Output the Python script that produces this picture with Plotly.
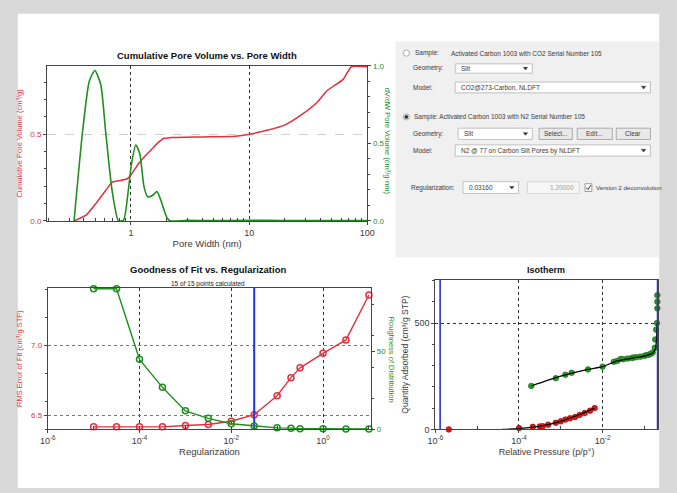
import plotly.graph_objects as go

W, H = 677, 493

# ---------------- data ----------------
# Plot 1: Cumulative Pore Volume vs. Pore Width
pore_width_cum = [0.33, 0.417, 0.504, 0.61, 0.692, 0.785, 0.921, 1.01, 1.15, 1.31, 1.48, 1.68, 1.91,
                  2.17, 4.09, 7.7, 10, 14.5, 20, 27.4, 37.7, 45.6, 62.5, 73.3, 100]
cum_volume = [0, 0.034, 0.10, 0.176, 0.223, 0.232, 0.242, 0.27, 0.327, 0.374, 0.41, 0.449, 0.477,
              0.481, 0.485, 0.489, 0.5, 0.525, 0.553, 0.61, 0.685, 0.751, 0.817, 0.89, 0.89]
pore_width_dv = [0.33, 0.39, 0.444, 0.495, 0.555, 0.61, 0.692, 0.785, 0.865, 0.95, 1.01, 1.10, 1.19,
                 1.29, 1.39, 1.53, 1.66, 1.79, 2.03, 2.17, 3, 5, 10, 20, 50, 100]
dvdw = [0, 0.58, 0.90, 0.97, 0.88, 0.58, 0.198, 0, 0.005, 0.198, 0.368, 0.49, 0.43,
        0.22, 0.155, 0.166, 0.19, 0.134, 0.017, 0, 0.004, 0.002, 0.004, 0.003, 0.003, 0.002]

# Plot 2: Goodness of Fit vs. Regularization
regularization = [1e-5, 3.16e-5, 1e-4, 3.16e-4, 1e-3, 3.16e-3, 1e-2, 3.16e-2, 0.1, 0.2, 0.316, 1, 3.16, 10]
rms_error = [6.418, 6.418, 6.418, 6.418, 6.428, 6.435, 6.458, 6.505, 6.640, 6.769, 6.839, 6.942, 7.038, 7.358]
roughness = [90.3, 90.3, 45.0, 27.0, 11.9, 7.1, 3.6, 2.1, 1.0, 0.8, 0.4, 0.4, 0.3, 0.3]
selected_reg = 0.0316

# Plot 3: Isotherm
n2_p = [1.97e-4, 7.6e-4, 1.29e-3, 1.82e-3, 4.47e-3, 1e-2, 1.86e-2, 2.24e-2, 2.69e-2, 3.16e-2, 3.98e-2,
        5.01e-2, 5.5e-2, 6.31e-2, 7.94e-2, 0.1, 0.112, 0.126, 0.141, 0.158, 0.178, 0.182, 0.191, 0.2,
        0.204, 0.204, 0.204]
n2_q = [204.5, 241, 257, 266, 282, 295, 318, 322, 331, 330, 333, 336, 338, 339, 342, 346, 349, 351,
        355, 361, 384, 423, 469, 500, 569, 600, 631]
n2_fit_p = [1.97e-4, 1e-3, 4.47e-3, 1e-2, 2.24e-2, 5e-2, 0.1, 0.158, 0.185, 0.196, 0.202]
n2_fit_q = [204, 250, 282, 295, 322, 335, 345, 358, 380, 430, 500]
co2_p = [2.1e-6, 1e-4, 2.14e-4, 3.16e-4, 3.72e-4, 5.01e-4, 7.59e-4, 1e-3, 1.29e-3, 1.66e-3, 2.19e-3,
         2.82e-3, 3.72e-3, 5.01e-3, 6.46e-3]
co2_q = [0, 6, 12, 14, 15, 22, 31, 38, 46, 52, 58, 68, 77, 88, 100]
co2_fit_p = [4e-5, 1e-4, 3e-4, 1e-3, 3e-3, 6.46e-3]
co2_fit_q = [0, 4, 14, 38, 72, 100]
iso_range = [1.3e-6, 0.2065]

# axis ranges (log10 for log axes)
x1_range = [-0.71, 2.0]
y1_range = [0, 0.895]
y2_range = [0, 1.0]
x2_range = [-6.0, 1.05]
y3_range = [6.40, 7.41]
y4_range = [0, 91]
x3_range = [-6.0, -0.675]
y5_range = [0, 703]

# ---------------- helpers ----------------
def PX(x):
    return x / W

def PY(y):
    return 1 - y / H

RED = "#e3303f"
GREEN = "#1f8f1f"
BLUE = "#2233dd"
FONT = "Liberation Sans"
TXT = "#3a3a3a"

fig = go.Figure()

# Plot 1 traces
fig.add_trace(go.Scatter(x=pore_width_cum, y=cum_volume, mode="lines", xaxis="x", yaxis="y",
                         line=dict(color=RED, width=1.5, shape="spline", smoothing=0.5)))
fig.add_trace(go.Scatter(x=pore_width_dv, y=dvdw, mode="lines", xaxis="x", yaxis="y2",
                         line=dict(color=GREEN, width=1.6, shape="spline", smoothing=0.6)))

# Plot 2 traces
fig.add_trace(go.Scatter(x=regularization, y=rms_error, mode="lines+markers", xaxis="x2", yaxis="y3",
                         cliponaxis=False,
                         line=dict(color=RED, width=1.4),
                         marker=dict(symbol="circle-open", size=6, color=RED, line=dict(width=1.5))))
fig.add_trace(go.Scatter(x=regularization, y=roughness, mode="lines+markers", xaxis="x2", yaxis="y4",
                         cliponaxis=False,
                         line=dict(color=GREEN, width=1.4),
                         marker=dict(symbol="circle-open", size=6, color=GREEN, line=dict(width=1.5))))
fig.add_trace(go.Scatter(x=[selected_reg, selected_reg], y=y3_range, mode="lines", xaxis="x2", yaxis="y3",
                         line=dict(color=BLUE, width=2)))

# Plot 3 traces
fig.add_trace(go.Scatter(x=co2_p, y=co2_q, mode="markers", xaxis="x3", yaxis="y5", cliponaxis=False,
                         marker=dict(size=5.5, color="#e01e1e", line=dict(color="#b00000", width=0.8))))
fig.add_trace(go.Scatter(x=n2_p, y=n2_q, mode="markers", xaxis="x3", yaxis="y5", cliponaxis=False,
                         marker=dict(size=5.5, color="#2aa02a", line=dict(color="#157015", width=0.8))))
fig.add_trace(go.Scatter(x=co2_fit_p, y=co2_fit_q, mode="lines", xaxis="x3", yaxis="y5",
                         line=dict(color="black", width=1.3, shape="spline")))
fig.add_trace(go.Scatter(x=n2_fit_p, y=n2_fit_q, mode="lines", xaxis="x3", yaxis="y5",
                         line=dict(color="black", width=1.3, shape="spline", smoothing=0.6)))
for xv in iso_range:
    fig.add_trace(go.Scatter(x=[xv, xv], y=y5_range, mode="lines", xaxis="x3", yaxis="y5",
                             line=dict(color=BLUE, width=1.6)))

# ---------------- axes ----------------
common_x = dict(type="log", showline=True, mirror=True, linecolor="#444", linewidth=1,
                ticks="outside", ticklen=3, tickcolor="#444",
                showgrid=True, gridcolor="#333", griddash="dot", gridwidth=1,
                zeroline=False, tickfont=dict(family=FONT, size=9, color=TXT))
common_y = dict(showline=True, linecolor="#444", linewidth=1, ticks="outside", ticklen=3,
                tickcolor="#444", zeroline=False, tickmode="array")

dom1x = [PX(40), PX(368)]
dom1y = [PY(221), PY(63)]
dom2x = [PX(40.7), PX(372)]
dom2y = [PY(433.3), PY(289)]
dom3x = [PX(437.7), PX(665.7)]
dom3y = [PY(433.3), PY(281)]

minor1 = [0.2, 0.3, 0.4, 0.5, 0.6, 0.7, 0.8, 0.9, 2, 3, 4, 5, 6, 7, 8, 9, 20, 30, 40, 50, 60, 70, 80, 90]

def xtitle(s, size=9.5, standoff=3):
    return dict(text=s, font=dict(family=FONT, size=size, color=TXT), standoff=standoff)

fig.update_layout(
    xaxis=dict(common_x, domain=dom1x, anchor="y", range=x1_range,
               tickmode="array", tickvals=[1, 10, 100], ticktext=["1", "10", "100"],
               title=xtitle("Pore Width (nm)"),
               minor=dict(tickvals=minor1, ticks="inside", ticklen=3, tickcolor="#444", showgrid=False)),
    yaxis=dict(common_y, domain=dom1y, anchor="x", range=y1_range,
               tickvals=[0, 0.5], ticktext=["0.0", "0.5"],
               tickfont=dict(family=FONT, size=8, color=RED),
               title=dict(text="Cumulative Pore Volume (cm³/g)", font=dict(family=FONT, size=7.5, color=RED),
                          standoff=6),
               showgrid=True, gridcolor="#cfcfcf", griddash="dash",
               minor=dict(dtick=0.1, tick0=0, ticks="outside", ticklen=2, tickcolor="#444", showgrid=False)),
    yaxis2=dict(common_y, overlaying="y", side="right", anchor="x", range=y2_range,
                tickvals=[0, 0.5, 1.0], ticktext=["0.0", "0.5", "1.0"],
                tickfont=dict(family=FONT, size=8, color=GREEN), showgrid=False,
                minor=dict(dtick=0.1, tick0=0, ticks="outside", ticklen=2, tickcolor="#444", showgrid=False)),

    xaxis2=dict(common_x, domain=dom2x, anchor="y3", range=x2_range,
                tickmode="array", tickvals=[1e-6, 1e-4, 1e-2, 1],
                ticktext=["10<sup>-6</sup>", "10<sup>-4</sup>", "10<sup>-2</sup>", "10<sup>0</sup>"],
                title=xtitle("Regularization"),
                minor=dict(tickvals=[1e-5, 1e-3, 1e-1, 10], ticks="inside", ticklen=3,
                           tickcolor="#444", showgrid=False)),
    yaxis3=dict(common_y, domain=dom2y, anchor="x2", range=y3_range,
                tickvals=[6.5, 7.0], ticktext=["6.5", "7.0"],
                tickfont=dict(family=FONT, size=8, color=RED),
                title=dict(text="RMS Error of Fit (cm³/g STP)", font=dict(family=FONT, size=7.5, color=RED),
                           standoff=7),
                showgrid=True, gridcolor="#e84848", griddash="dot",
                minor=dict(dtick=0.2, tick0=7.0, ticks="outside", ticklen=2, tickcolor="#444", showgrid=False)),
    yaxis4=dict(common_y, overlaying="y3", side="right", anchor="x2", range=y4_range,
                tickvals=[0, 50], ticktext=["0", "50"],
                tickfont=dict(family=FONT, size=8, color=GREEN), showgrid=False,
                minor=dict(dtick=20, tick0=0, ticks="outside", ticklen=2, tickcolor="#444", showgrid=False)),

    xaxis3=dict(common_x, domain=dom3x, anchor="y5", range=x3_range,
                tickmode="array", tickvals=[1e-6, 1e-4, 1e-2],
                ticktext=["10<sup>-6</sup>", "10<sup>-4</sup>", "10<sup>-2</sup>"],
                title=xtitle("Relative Pressure (p/p°)", size=9),
                minor=dict(tickvals=[1e-5, 1e-3, 1e-1], ticks="inside", ticklen=3,
                           tickcolor="#444", showgrid=False)),
    yaxis5=dict(common_y, domain=dom3y, anchor="x3", range=y5_range, mirror=True,
                tickvals=[0, 500], ticktext=["0", "500"],
                tickfont=dict(family=FONT, size=9, color=TXT),
                title=dict(text="Quantity Adsorbed (cm³/g STP)", font=dict(family=FONT, size=8.5, color=TXT),
                           standoff=4),
                showgrid=True, gridcolor="#333", griddash="dot",
                minor=dict(dtick=100, tick0=0, ticks="outside", ticklen=2, tickcolor="#444", showgrid=False)),
)

# ---------------- shapes (background, dialog) ----------------
shapes = []

def rect(x0, y0, x1, y1, fill, line="rgba(0,0,0,0)", lw=0.8, layer="above"):
    shapes.append(dict(type="rect", xref="paper", yref="paper", x0=PX(x0), x1=PX(x1),
                       y0=PY(y1), y1=PY(y0), fillcolor=fill, line=dict(color=line, width=lw), layer=layer))

def circle(cx, cy, r, fill, line):
    shapes.append(dict(type="circle", xref="paper", yref="paper", x0=PX(cx - r), x1=PX(cx + r),
                       y0=PY(cy + r), y1=PY(cy - r), fillcolor=fill, line=dict(color=line, width=0.8)))

def tri(cx, cy):
    shapes.append(dict(type="path", xref="paper", yref="paper",
                       path=f"M {PX(cx-2.2)} {PY(cy-1.2)} L {PX(cx+2.2)} {PY(cy-1.2)} L {PX(cx)} {PY(cy+1.5)} Z",
                       fillcolor="#333", line=dict(color="#333", width=0.5)))

def check(x0, y0):
    shapes.append(dict(type="path", xref="paper", yref="paper",
                       path=f"M {PX(x0+1.3)} {PY(y0+4)} L {PX(x0+3)} {PY(y0+6)} L {PX(x0+6)} {PY(y0+1.5)}",
                       line=dict(color="#333", width=1)))

rect(10, 10, 667, 493, "white", layer="below")
rect(397, 38, 667, 258, "#f0f0f0", layer="below")

annotations = []

def text(x, y, s, size=6.5, color=TXT, anchor="left", angle=0, family=FONT):
    annotations.append(dict(x=PX(x), y=PY(y), xref="paper", yref="paper", text=s, showarrow=False,
                            xanchor=anchor, yanchor="middle", textangle=angle,
                            font=dict(family=family, size=size, color=color)))

def dropdown(x0, y0, x1, y1, label):
    rect(x0, y0, x1, y1, "white", "#b4b4b4")
    text(x0 + 4, (y0 + y1) / 2, label)
    tri(x1 - 7, (y0 + y1) / 2)

def button(x0, y0, x1, y1, label):
    rect(x0, y0, x1, y1, "#e9e9e9", "#9a9a9a")
    text((x0 + x1) / 2, (y0 + y1) / 2, label, anchor="center")

# dialog content
circle(408, 50, 3.2, "white", "#999")
text(415, 50, "Sample:")
text(452, 50, "Activated Carbon 1003 with CO2 Serial Number 105")
text(413, 65.5, "Geometry:")
dropdown(458, 61, 537, 70.5, "Slit")
text(413, 85, "Model:")
dropdown(458, 79.5, 658, 90.5, "CO2@273-Carbon, NLDFT")

circle(408, 115, 3.2, "white", "#999")
circle(408, 115, 1.6, "#333", "#333")
text(414, 115, "Sample: Activated Carbon 1003 with N2 Serial Number 105")
text(413, 132, "Geometry:")
dropdown(461, 126.5, 537, 138, "Slit")
button(544, 126.5, 578, 138, "Select...")
button(583, 126.5, 619, 138, "Edit...")
button(623, 126.5, 658, 138, "Clear")
text(413, 149, "Model:")
dropdown(458, 143.5, 658, 155, "N2 @ 77 on Carbon Slit Pores by NLDFT")

text(411, 187, "Regularization:")
dropdown(466, 181, 523, 193, "0.03160")
rect(532, 181, 585, 193, "#f6f6f6", "#cfcfcf")
text(582, 187, "1.20000", color="#a0a0a0", anchor="right")
rect(591, 183, 598, 191, "white", "#888")
check(591, 183)
text(600, 187, "Version 2 deconvolution", size=6.2)

# chart titles and right-hand axis titles
text(204, 52, "<b>Cumulative Pore Volume vs. Pore Width</b>", size=9.5, color="#111", anchor="center")
text(389, 140, "dV/dW Pore Volume (cm³/g·nm)", size=7.5, color=GREEN, anchor="center", angle=90)

text(205, 270, "<b>Goodness of Fit vs. Regularization</b>", size=9.5, color="#111", anchor="center")
text(205, 285.3, "15 of 15 points calculated", size=6.5, color="#222", anchor="center")
text(393, 362, "Roughness of Distribution", size=7.5, color=GREEN, anchor="center", angle=90)

text(551.5, 271, "<b>Isotherm</b>", size=9, color="#111", anchor="center")

fig.update_layout(
    width=W, height=H, margin=dict(l=0, r=0, t=0, b=0),
    paper_bgcolor="#d8d8d8", plot_bgcolor="white",
    showlegend=False, shapes=shapes, annotations=annotations,
    font=dict(family=FONT),
)

fig.write_html("out.html", config={"displayModeBar": False},
               post_script="document.body.style.margin='0';document.body.style.overflow='hidden';")
